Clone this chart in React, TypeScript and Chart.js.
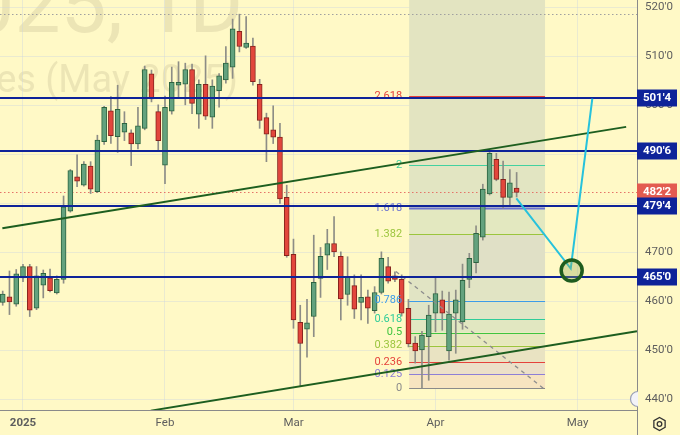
import React, { useEffect, useRef } from 'react';
import { Chart, registerables } from 'chart.js';
Chart.register(...registerables);

// ---------- data ----------
const FIRST_INDEX = -3; // Dec 27 2024 ; index 0 = Jan 2 2025
const opens = [459.8, 460.9, 459.4, 464.8, 467.1, 458.6, 463.3, 464.8, 461.7, 464.5, 478.4, 485.4, 483.7, 487.6, 482.4, 492.6, 498.9, 493.6, 494.5, 494.4, 492.1, 495.3, 506.4, 498.7, 487.8, 498.8, 504.1, 504.3, 507.3, 498.2, 504.3, 497.6, 503.0, 505.2, 507.8, 515.1, 511.8, 512.1, 504.3, 497.5, 495.0, 493.5, 481.2, 469.6, 455.7, 454.3, 456.9, 464.7, 469.4, 471.8, 469.2, 461.4, 463.2, 459.8, 460.9, 458.1, 461.8, 467.1, 465.2, 464.5, 458.6, 451.5, 450.1, 452.8, 457.6, 460.3, 449.9, 457.6, 455.8, 464.5, 467.9, 473.1, 481.9, 489.0, 484.9, 481.2, 483.1];
const highs = [462.1, 466.2, 466.5, 467.55, 467.55, 467.1, 466.4, 466.6, 465.2, 481.5, 486.9, 489.9, 488.5, 488.5, 493.9, 499.8, 501.8, 504.1, 498.7, 495.0, 499.6, 508.0, 507.2, 500.1, 501.9, 507.8, 508.9, 508.6, 508.4, 505.2, 510.1, 505.2, 506.5, 512.0, 517.6, 518.6, 518.1, 513.7, 505.3, 498.4, 499.9, 496.3, 483.7, 472.7, 459.2, 460.4, 473.5, 471.0, 474.7, 477.3, 470.1, 469.1, 465.4, 465.4, 462.3, 463.0, 470.1, 469.0, 466.0, 465.4, 460.4, 452.8, 453.9, 459.2, 465.0, 462.1, 461.9, 462.3, 467.6, 469.8, 475.4, 483.9, 490.75, 490.2, 488.6, 486.9, 486.3];
const lows = [459.2, 457.3, 459.0, 464.0, 456.9, 458.3, 460.7, 461.9, 461.5, 463.7, 478.2, 483.4, 483.5, 482.0, 482.2, 492.0, 492.2, 490.4, 492.8, 487.7, 491.1, 495.0, 500.7, 490.7, 484.0, 498.2, 501.4, 500.1, 498.3, 495.3, 497.1, 495.3, 499.6, 504.5, 505.5, 510.9, 511.6, 504.1, 495.3, 488.5, 492.2, 480.0, 469.0, 454.5, 442.7, 448.6, 452.8, 460.8, 466.5, 469.1, 456.2, 459.2, 456.5, 456.2, 455.5, 457.6, 461.5, 463.7, 464.0, 457.0, 450.7, 447.4, 442.2, 443.9, 453.8, 454.1, 448.0, 449.4, 454.3, 462.8, 465.8, 472.5, 481.7, 484.6, 479.0, 479.3, 481.3];
const closes = [461.5, 459.9, 465.6, 467.1, 458.2, 465.2, 465.7, 462.2, 464.5, 479.3, 486.7, 484.5, 488.0, 482.9, 492.9, 499.6, 493.8, 499.2, 496.3, 492.1, 495.8, 507.3, 501.3, 492.8, 499.6, 504.7, 504.7, 507.3, 500.4, 504.3, 497.8, 503.9, 506.0, 508.6, 515.6, 512.0, 512.7, 504.8, 496.9, 494.1, 493.5, 480.9, 469.3, 456.2, 451.4, 455.6, 463.9, 469.2, 471.8, 470.1, 460.5, 465.0, 458.4, 460.8, 458.6, 461.8, 468.8, 464.1, 464.5, 457.6, 451.3, 449.9, 453.1, 457.2, 461.6, 457.6, 457.4, 460.3, 464.3, 468.8, 473.9, 482.9, 490.2, 484.9, 481.2, 484.2, 482.25];

const monthTickIdx = [0, 21, 40, 61, 82];
const monthLabels = ['2025', 'Feb', 'Mar', 'Apr', 'May'];
const priceTicks = [440, 450, 460, 470, 480, 490, 500, 510, 520];

const levelPrices = [501.5, 490.75, 479.5, 465];
const lastPrice = 482.25;
const rangeHigh = 518.6;

const fibZero = 442.25;
const fibOne = 465;
const fibRatios = [0, 0.125, 0.236, 0.382, 0.5, 0.618, 0.786, 1, 1.382, 1.618, 2, 2.618];
const fibLabels = ['0', '0.125', '0.236', '0.382', '0.5', '0.618', '0.786', '', '1.382', '1.618', '2', '2.618'];
const fibX = [57.1, 77.2];

const upperTrend = [[-3.05, 474.9], [89.2, 495.6]];
const lowerTrend = [[18.9, 437.7], [90.8, 453.9]];
const projection = [[72.96, 481.0], [81.0, 466.7], [84.19, 501.35]];
const fibDiagonal = [[55.15, 466.1], [77.0, 442.2]];
const targetCircle = [81.14, 466.3];

const watermarkLines = ['ZCK2025, 1D', 'Corn Futures (May 2025)'];

// ---------- styles ----------
const BG = '#fff9c6';
const GRID = 'rgba(200,210,225,0.38)';
const NAVY = '#0e2399';
const FONT = 'Roboto';
const fibColors = ['#8a8a8a', '#8e7fd6', '#e5423b', '#9bc53d', '#3fc43f', '#2fcc99', '#3d9ce8', '#8a8a8a', '#9bc53d', '#6b73d0', '#43d1a0', '#e5423b'];
const fibFills = ['#f7e4c0', '#ece0c8', '#e9e3c2', '#e6e8bd', '#e1e7c1', '#dfe5c6', '#e1e4c4', '#e0e0c6', '#e3e8c0', '#e2e5c2', '#e3e4c1', '#e3e4c1'];

const fmt = (v: number) => {
  const w = Math.floor(v + 1e-9);
  return `${w}'${Math.round((v - w) * 8)}`;
};
const fibPrice = (r: number) => fibZero + (fibOne - fibZero) * r;

const drawPlugin = {
  id: 'tvDraw',
  beforeDraw(chart: any) {
    const { ctx, width, height } = chart;
    ctx.save();
    ctx.fillStyle = BG;
    ctx.fillRect(0, 0, width, height);
    ctx.fillStyle = 'rgba(140,130,100,0.17)';
    ctx.textAlign = 'right';
    ctx.textBaseline = 'alphabetic';
    ctx.font = `82px ${FONT}`;
    ctx.fillText(watermarkLines[0], 243, 32);
    ctx.font = `38px ${FONT}`;
    ctx.fillText(watermarkLines[1], 238, 92);
    ctx.restore();
  },
  beforeDatasetsDraw(chart: any) {
    const { ctx, chartArea: a, scales } = chart;
    const X = (v: number) => scales.x.getPixelForValue(v);
    const Y = (v: number) => scales.y.getPixelForValue(v);
    ctx.save();
    ctx.beginPath();
    ctx.rect(a.left, a.top, a.right - a.left, a.bottom - a.top);
    ctx.clip();
    const x0 = X(fibX[0]);
    const x1 = X(fibX[1]);
    // fills
    for (let k = 0; k < fibRatios.length; k++) {
      const yb = Y(fibPrice(fibRatios[k]));
      const yt = k + 1 < fibRatios.length ? Y(fibPrice(fibRatios[k + 1])) : a.top;
      ctx.fillStyle = fibFills[k];
      ctx.fillRect(x0, yt, x1 - x0, yb - yt);
    }
    // dotted lines
    ctx.setLineDash([1.5, 2.5]);
    ctx.lineWidth = 1;
    ctx.strokeStyle = '#e57368';
    let y = Math.round(Y(lastPrice)) + 0.5;
    ctx.beginPath(); ctx.moveTo(a.left, y); ctx.lineTo(a.right, y); ctx.stroke();
    ctx.strokeStyle = '#a0a0a0';
    y = Math.round(Y(rangeHigh)) + 0.5;
    ctx.beginPath(); ctx.moveTo(a.left, y); ctx.lineTo(a.right, y); ctx.stroke();
    ctx.setLineDash([]);
    // fib lines
    fibRatios.forEach((r, k) => {
      const yy = Math.round(Y(fibPrice(r))) + 0.5;
      ctx.strokeStyle = fibColors[k];
      ctx.lineWidth = r === 1.618 ? 2 : 1;
      ctx.beginPath(); ctx.moveTo(x0, yy); ctx.lineTo(x1, yy); ctx.stroke();
    });
    ctx.restore();
  },
  afterDatasetsDraw(chart: any) {
    const { ctx, chartArea: a, scales } = chart;
    const X = (v: number) => scales.x.getPixelForValue(v);
    const Y = (v: number) => scales.y.getPixelForValue(v);
    ctx.save();
    ctx.beginPath();
    ctx.rect(a.left, a.top, a.right - a.left, a.bottom - a.top);
    ctx.clip();
    const x0 = X(fibX[0]);
    // fib labels
    ctx.font = `11px ${FONT}`;
    ctx.textAlign = 'right';
    ctx.textBaseline = 'middle';
    fibRatios.forEach((r, k) => {
      if (!fibLabels[k]) return;
      ctx.fillStyle = fibColors[k];
      ctx.fillText(fibLabels[k], x0 - 7, Y(fibPrice(r)));
    });
    // fib diagonal dashed
    ctx.setLineDash([4, 4]);
    ctx.strokeStyle = '#8d8d8d';
    ctx.lineWidth = 1.3;
    ctx.beginPath();
    ctx.moveTo(X(fibDiagonal[0][0]), Y(fibDiagonal[0][1]));
    ctx.lineTo(X(fibDiagonal[1][0]), Y(fibDiagonal[1][1]));
    ctx.stroke();
    ctx.setLineDash([]);
    // navy horizontal levels
    ctx.strokeStyle = NAVY;
    ctx.lineWidth = 2;
    levelPrices.forEach((p) => {
      const yy = Math.round(Y(p));
      ctx.beginPath(); ctx.moveTo(a.left, yy); ctx.lineTo(a.right, yy); ctx.stroke();
    });
    // trend lines
    ctx.strokeStyle = '#1d5e1f';
    ctx.lineWidth = 2;
    [upperTrend, lowerTrend].forEach((t) => {
      ctx.beginPath();
      ctx.moveTo(X(t[0][0]), Y(t[0][1]));
      ctx.lineTo(X(t[1][0]), Y(t[1][1]));
      ctx.stroke();
    });
    // projection path
    ctx.strokeStyle = '#27c2dc';
    ctx.lineWidth = 2;
    ctx.lineJoin = 'miter';
    ctx.beginPath();
    projection.forEach((pt, k) => {
      const px = X(pt[0]); const py = Y(pt[1]);
      if (k === 0) ctx.moveTo(px, py); else ctx.lineTo(px, py);
    });
    ctx.stroke();
    // target circle
    ctx.beginPath();
    ctx.arc(X(targetCircle[0]), Y(targetCircle[1]), 10.5, 0, Math.PI * 2);
    ctx.fillStyle = 'rgba(150,170,90,0.35)';
    ctx.fill();
    ctx.strokeStyle = '#1e5c1e';
    ctx.lineWidth = 3.5;
    ctx.stroke();
    ctx.restore();
  },
  afterDraw(chart: any) {
    const { ctx, chartArea: a, scales, height } = chart;
    const Y = (v: number) => scales.y.getPixelForValue(v);
    ctx.save();
    // axis line extension
    ctx.strokeStyle = '#8a8a8a';
    ctx.lineWidth = 1;
    ctx.beginPath(); ctx.moveTo(a.right + 0.5, a.bottom); ctx.lineTo(a.right + 0.5, height); ctx.stroke();
    // small scroll button
    ctx.beginPath();
    ctx.arc(a.right + 1, a.bottom - 11, 7.5, Math.PI * 0.5, Math.PI * 1.5);
    ctx.fillStyle = '#f3f3f8';
    ctx.fill();
    ctx.strokeStyle = '#9aa0b5';
    ctx.lineWidth = 1.2;
    ctx.stroke();
    // gear icon
    const gx = a.right + 22.5; const gy = a.bottom + 14;
    ctx.beginPath();
    for (let k = 0; k < 6; k++) {
      const ang = Math.PI / 6 + (k * Math.PI) / 3;
      const px = gx + 6.5 * Math.cos(ang); const py = gy + 6.5 * Math.sin(ang);
      if (k === 0) ctx.moveTo(px, py); else ctx.lineTo(px, py);
    }
    ctx.closePath();
    ctx.strokeStyle = '#333';
    ctx.lineWidth = 1.3;
    ctx.stroke();
    ctx.beginPath(); ctx.arc(gx, gy, 2.3, 0, Math.PI * 2); ctx.stroke();
    // price labels
    ctx.font = `bold 11.5px ${FONT}`;
    ctx.textAlign = 'center';
    ctx.textBaseline = 'middle';
    const box = (p: number, fill: string) => {
      const yy = Math.round(Y(p));
      ctx.fillStyle = fill;
      ctx.fillRect(a.right, yy - 8.5, 40, 17);
      ctx.fillStyle = '#ffffff';
      ctx.fillText(fmt(p), a.right + 20, yy + 0.5);
    };
    box(lastPrice, '#e35b50');
    levelPrices.forEach((p) => box(p, NAVY));
    ctx.restore();
  },
};

export default function App() {
  const ref = useRef<HTMLCanvasElement | null>(null);
  useEffect(() => {
    if (!ref.current) return;
    const n = opens.length;
    const wickData: any[] = [];
    const bodyData: any[] = [];
    const bodyFill: string[] = [];
    const bodyBorder: string[] = [];
    for (let k = 0; k < n; k++) {
      const x = FIRST_INDEX + k;
      wickData.push({ x, y: [lows[k], highs[k]] });
      let lo = Math.min(opens[k], closes[k]);
      let hi = Math.max(opens[k], closes[k]);
      if (hi - lo < 0.35) { const m = (hi + lo) / 2; lo = m - 0.18; hi = m + 0.18; }
      bodyData.push({ x, y: [lo, hi] });
      const up = closes[k] >= opens[k];
      bodyFill.push(up ? '#63a27e' : '#e2463c');
      bodyBorder.push(up ? '#2c6340' : '#86221c');
    }
    const chart = new Chart(ref.current, {
      type: 'bar',
      data: {
        datasets: [
          { data: bodyData, backgroundColor: bodyFill, borderColor: bodyBorder, borderWidth: 1, borderSkipped: false, barThickness: 5, grouped: false, order: 1 } as any,
          { data: wickData, backgroundColor: '#8d8d86', borderWidth: 0, barThickness: 1, grouped: false, order: 2 } as any,
        ],
      },
      options: {
        animation: false,
        responsive: false,
        devicePixelRatio: 1,
        layout: { padding: 0 },
        plugins: { legend: { display: false }, tooltip: { enabled: false } },
        scales: {
          x: {
            type: 'linear',
            position: 'bottom',
            offset: false,
            min: -3.4,
            max: 90.8,
            afterBuildTicks: (s: any) => { s.ticks = monthTickIdx.map((v) => ({ value: v })); },
            afterFit: (s: any) => { s.height = 25; s.paddingLeft = 0; s.paddingRight = 0; },
            ticks: {
              callback: (_v: any, i: number) => monthLabels[i],
              color: '#5e5e5e',
              font: (c: any) => ({ family: FONT, size: 11.5, weight: c.index === 0 ? 'bold' : 'normal' }),
              padding: 6,
              autoSkip: false,
              maxRotation: 0,
            },
            grid: { color: GRID, drawTicks: false, offset: false },
            border: { color: '#8a8a8a', width: 1 },
          } as any,
          y: {
            type: 'linear',
            position: 'right',
            min: 437.83,
            max: 521.49,
            afterBuildTicks: (s: any) => { s.ticks = priceTicks.map((v) => ({ value: v })); },
            afterFit: (s: any) => { s.width = 43; s.paddingTop = 0; s.paddingBottom = 0; },
            ticks: {
              callback: (v: any) => fmt(Number(v)),
              color: '#5e5e5e',
              font: { family: FONT, size: 11.5 },
              padding: 8,
            },
            grid: { color: GRID, drawTicks: false },
            border: { color: '#8a8a8a', width: 1 },
          } as any,
        },
      },
      plugins: [drawPlugin],
    });
    return () => chart.destroy();
  }, []);
  return (
    <div style={{ position: 'fixed', left: 0, top: 0, width: 680, height: 435 }}>
      <canvas ref={ref} width={680} height={435} style={{ display: 'block' }} />
    </div>
  );
}
